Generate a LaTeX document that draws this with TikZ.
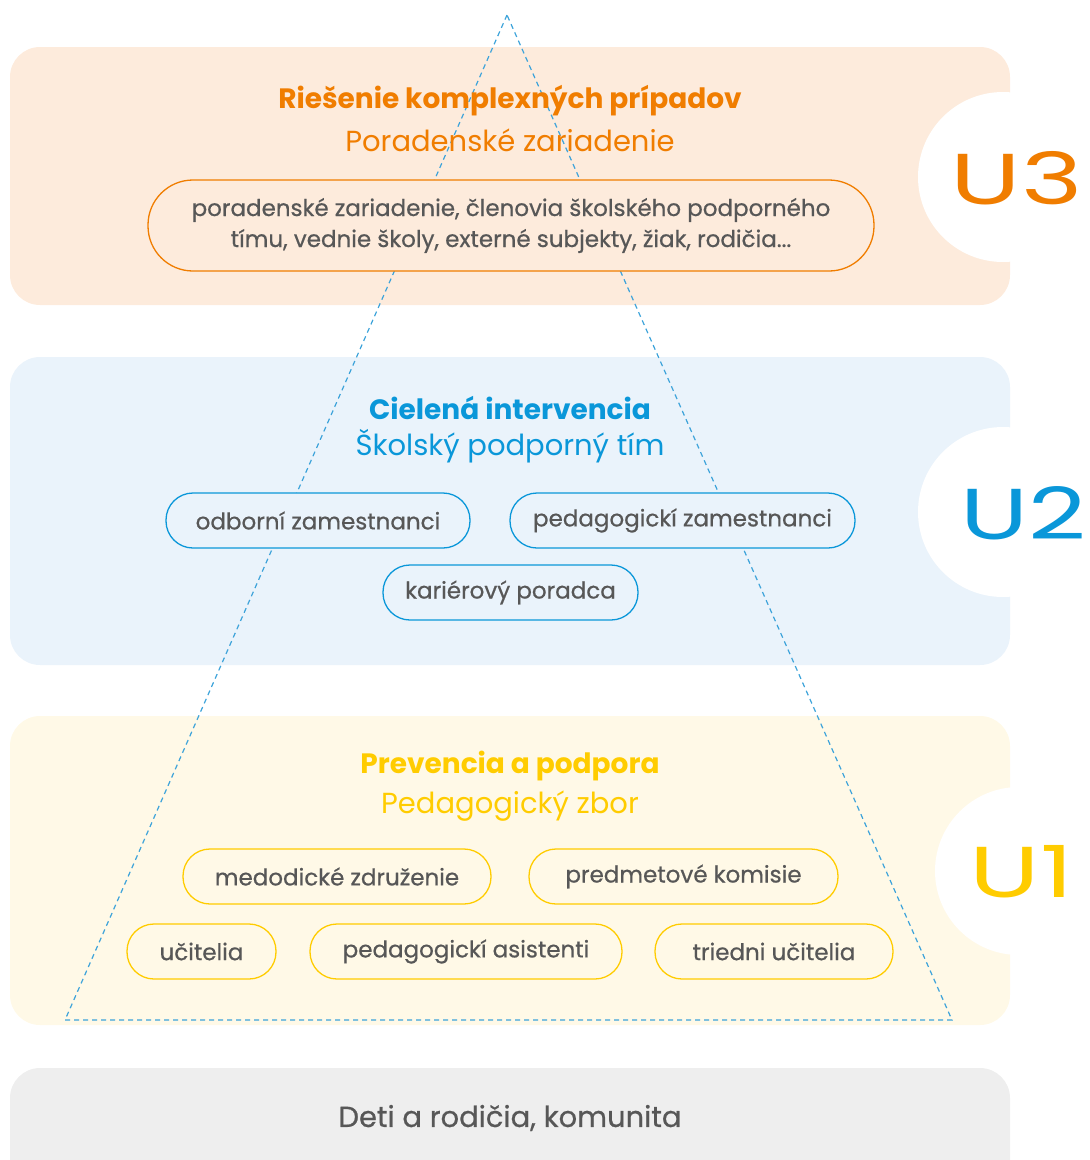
\documentclass[tikz,border=0pt]{standalone}
\usepackage{fontspec}
\setmainfont{Poppins}
\newfontfamily\ufont{Poppins}
\newfontfamily\medfont[FakeBold=0.6]{Poppins}
\definecolor{orT}{HTML}{F07D00}
\definecolor{orB}{HTML}{FDEBDC}
\definecolor{blT}{HTML}{0A97D9}
\definecolor{blB}{HTML}{EAF3FB}
\definecolor{ylT}{HTML}{FFCC00}
\definecolor{ylB}{HTML}{FFF9E7}
\definecolor{grB}{HTML}{EEEEEE}
\definecolor{txt}{HTML}{575757}
\definecolor{dash}{HTML}{3DA3DA}
\begin{document}
\begin{tikzpicture}[x=1pt,y=-1pt,
  band/.style={rounded corners=30pt},
  pill/.style={draw=#1T, line width=1.3pt, rounded corners=27pt, fill=#1B, text=txt,
    font=\medfont\fontsize{23}{31}\selectfont, inner sep=0pt, anchor=center},
  ttl/.style={font=\fontsize{28}{30}\selectfont\bfseries, text=#1},
  sub/.style={font=\fontsize{29}{30}\selectfont, text=#1},
  ulab/.style={font=\ufont\fontsize{72}{72}\selectfont, text=#1, anchor=west},
  tri/.style={draw=dash, line width=1.2pt, dash pattern=on 5pt off 4pt}
]
\useasboundingbox (0,0) rectangle (1090,1160);
\clip (0,0) rectangle (1090,1160);
% bands
\fill[orB, band] (10,47) rectangle (1010,305);
\fill[blB, band] (10,357) rectangle (1010,665);
\fill[ylB, band] (10,716) rectangle (1010,1025);
\fill[grB, band] (10,1068) rectangle (1010,1220);
% circle cut-outs
\fill[white] (1003,177) circle (85);
\fill[white] (1003,512) circle (85);
\fill[white] (1019,871) circle (84);
% U labels
\node[ulab=orT] (u3) at (947,178) {\scalebox{1.45}[1]{U3}};
\node[ulab=blT] (u2) at (957,513) {\scalebox{1.4}[1]{U2}};
\node[ulab=ylT] (u1) at (966,872) {\scalebox{1.45}[1]{U1}};
% dashed triangle
\coordinate (apex) at (507,15);
\coordinate (bl) at (65,1020);
\coordinate (br) at (952,1020);
\draw[tri] (apex) -- (bl) -- (br) -- cycle;
% U3 level
\node[ttl=orT] (t3) at (510,101) {Riešenie komplexných prípadov};
\node[sub=orT] (s3) at (510,140) {Poradenské zariadenie};
\node[pill=or, minimum width=726pt, minimum height=91pt, rounded corners=45pt, align=center] (p3) at (511,225.5)
  {poradenské zariadenie, členovia školského podporného\\tímu, vednie školy, externé subjekty, žiak, rodičia...};
% U2 level
\node[ttl=blT] (t2) at (510,408) {Cielená intervencia};
\node[sub=blT] (s2) at (510,446) {Školský podporný tím};
\node[pill=bl, minimum width=304pt, minimum height=55pt] (p21) at (318,520.5) {odborní zamestnanci};
\node[pill=bl, minimum width=345pt, minimum height=55pt] (p22) at (682.5,520.5) {pedagogickí zamestnanci};
\node[pill=bl, minimum width=255pt, minimum height=55pt] (p23) at (510.5,592.5) {kariérový poradca};
% U1 level
\node[ttl=ylT] (t1) at (510,766) {Prevencia a podpora};
\node[sub=ylT] (s1) at (510,806) {Pedagogický zbor};
\node[pill=yl, minimum width=308pt, minimum height=55pt] (p11) at (337,876.5) {medodické združenie};
\node[pill=yl, minimum width=309pt, minimum height=55pt] (p12) at (683.5,876.5) {predmetové komisie};
\node[pill=yl, minimum width=149pt, minimum height=55pt] (p13) at (201.5,951.5) {učitelia};
\node[pill=yl, minimum width=312pt, minimum height=55pt] (p14) at (466,951.5) {pedagogickí asistenti};
\node[pill=yl, minimum width=238pt, minimum height=55pt] (p15) at (774,951.5) {triedni učitelia};
% bottom
\node[font=\medfont\fontsize{29}{30}\selectfont, text=txt] (base) at (510,1118) {Deti a rodičia, komunita};
\end{tikzpicture}
\end{document}
